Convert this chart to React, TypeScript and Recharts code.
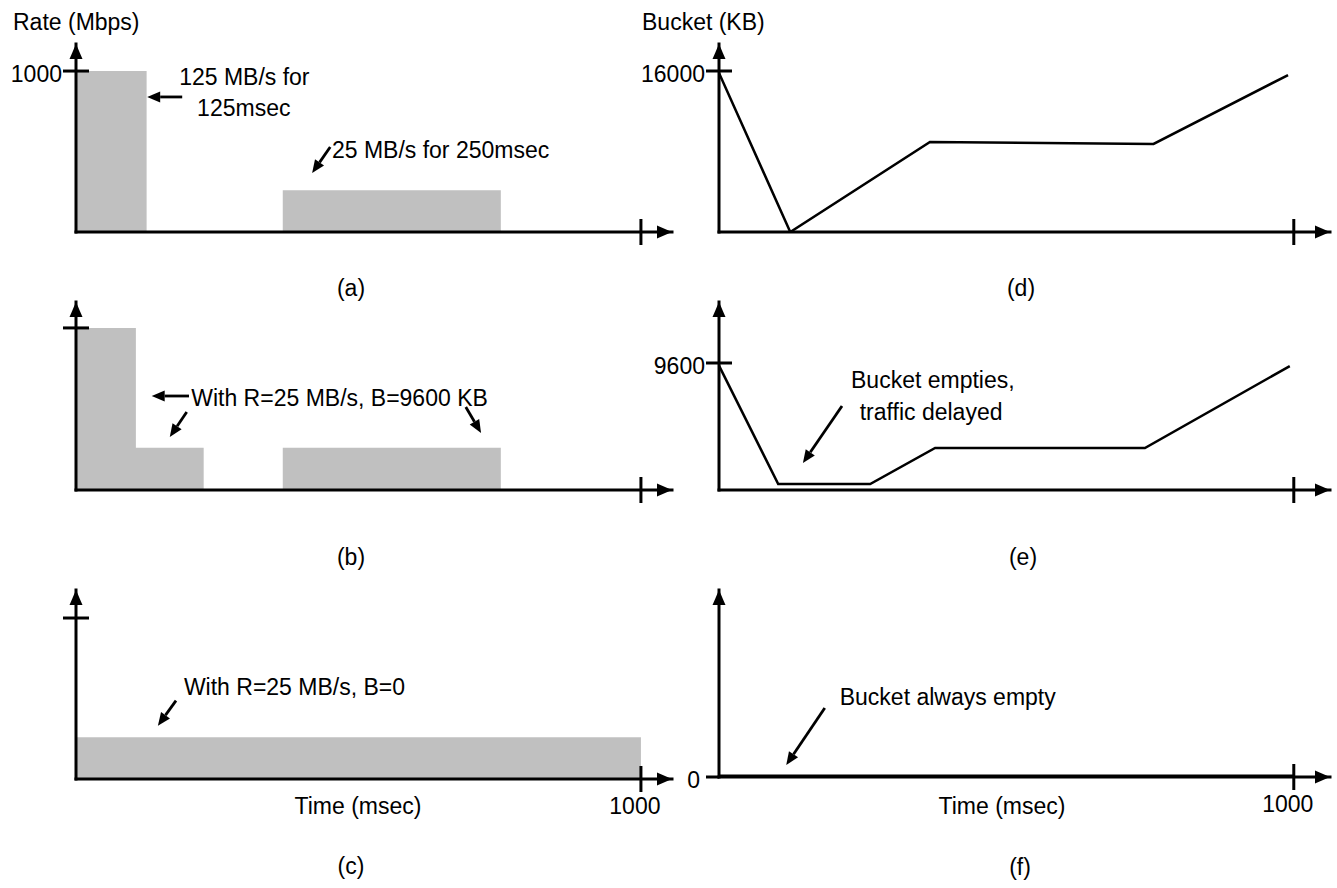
import React from 'react'
import { ComposedChart, Area, Line, XAxis, YAxis, ReferenceLine, ReferenceDot } from 'recharts'

const FONT = '"Liberation Sans", Arial, Helvetica, sans-serif'
const FS = 23
const GREY = '#c0c0c0'
const INK = '#000'

// output rate (Mbps), step shaped: each value holds until the next t (msec)
const rateA = [
  { t: 0, rate: 1000 },
  { t: 125, rate: 0 },
  { t: 366, rate: 260 },
  { t: 752, rate: 0 },
]
const rateB = [
  { t: 0, rate: 1000 },
  { t: 106, rate: 260 },
  { t: 226, rate: 0 },
  { t: 366, rate: 260 },
  { t: 752, rate: 0 },
]
const rateC = [
  { t: 0, rate: 260 },
  { t: 1000, rate: 0 },
]

// bucket level (KB) over time (msec)
const bucketD = [
  { t: 0, kb: 15800 },
  { t: 124, kb: 0 },
  { t: 367, kb: 8950 },
  { t: 756, kb: 8750 },
  { t: 990, kb: 15600 },
]
const bucketE = [
  { t: 0, kb: 9400 },
  { t: 103, kb: 450 },
  { t: 263, kb: 450 },
  { t: 376, kb: 3175 },
  { t: 741, kb: 3175 },
  { t: 993, kb: 9370 },
]
const bucketF = [
  { t: 0, kb: 0 },
  { t: 1000, kb: 0 },
]

// annotations, in data units (t, value)
const notesA = [
  { t: 298, v: 963, text: '125 MB/s for', anchor: 'middle' },
  { t: 297, v: 770, text: '125msec', anchor: 'middle' },
  { t: 453, v: 509, text: '25 MB/s for 250msec', anchor: 'start' },
]
const arrowsA = [
  { from: [188, 839], to: [126, 839] },
  { from: [450, 528], to: [418, 366] },
]
const notesB = [{ t: 204, v: 568, text: 'With R=25 MB/s, B=9600 KB', anchor: 'start' }]
const arrowsB = [
  { from: [200, 580], to: [134, 580] },
  { from: [196, 481], to: [166, 327] },
  { from: [690, 512], to: [717, 352] },
]
const notesC = [{ t: 191, v: 569, text: 'With R=25 MB/s, B=0', anchor: 'start' }]
const arrowsC = [{ from: [177, 487], to: [145, 331] }]
const notesE = [
  { t: 372, v: 8315, text: 'Bucket empties,', anchor: 'middle' },
  { t: 369, v: 5896, text: 'traffic delayed', anchor: 'middle' },
]
const arrowsE = [{ from: [214, 6350], to: [146, 2041] }]
const notesF = [{ t: 210, v: 428, text: 'Bucket always empty', anchor: 'start' }]
const arrowsF = [{ from: [184, 369], to: [117, 64] }]

const Y_W = 80
const X_H = 42
const M_TOP = 6
const M_RIGHT = 8

const arrowShape = (p: any) => {
  const { x1, y1, x2, y2 } = p
  const a = Math.atan2(y2 - y1, x2 - x1)
  const c = Math.cos(a)
  const s = Math.sin(a)
  const L = 13
  const W = 5.5
  const bx = x2 - L * c
  const by = y2 - L * s
  return (
    <g>
      <line x1={x1} y1={y1} x2={bx} y2={by} stroke={INK} strokeWidth={2.8} />
      <path d={`M${x2},${y2}L${bx - s * W},${by + c * W}L${bx + s * W},${by - c * W}Z`} fill={INK} />
    </g>
  )
}

function annotations(notes: any[], arrows: any[]) {
  const out: any[] = []
  notes.forEach((n, i) => {
    out.push(
      <ReferenceDot
        key={`n${i}`}
        x={n.t}
        y={n.v}
        r={0}
        ifOverflow="visible"
        shape={(p: any) => (
          <text x={p.cx} y={p.cy} textAnchor={n.anchor} dominantBaseline="central" fontFamily={FONT} fontSize={FS} fill={INK}>
            {n.text}
          </text>
        )}
      />
    )
  })
  arrows.forEach((a, i) => {
    out.push(
      <ReferenceLine
        key={`a${i}`}
        segment={[{ x: a.from[0], y: a.from[1] }, { x: a.to[0], y: a.to[1] }]}
        ifOverflow="visible"
        shape={arrowShape}
      />
    )
  })
  return out
}

const xTick = (xMax: number, label: boolean) => (p: any) => {
  const { x, y, payload } = p
  if (payload.value >= xMax) {
    return <path d={`M${x},${y}L${x - 15},${y - 6.5}L${x - 15},${y + 6.5}Z`} fill={INK} />
  }
  return (
    <g>
      <line x1={x} x2={x} y1={y - 13} y2={y + 13} stroke={INK} strokeWidth={3} />
      {label && (
        <text x={x - 6} y={y + 27} textAnchor="middle" dominantBaseline="central" fontFamily={FONT} fontSize={FS} fill={INK}>
          1000
        </text>
      )}
    </g>
  )
}

const yTick = (yMax: number, text: string, leftOnly: boolean) => (p: any) => {
  const { x, y, payload } = p
  if (payload.value >= yMax) {
    return <path d={`M${x},${y}L${x - 6.5},${y + 15}L${x + 6.5},${y + 15}Z`} fill={INK} />
  }
  return (
    <g>
      <line x1={x - 13} x2={leftOnly ? x : x + 13} y1={y} y2={y} stroke={INK} strokeWidth={3} />
      {text && (
        <text x={leftOnly ? x - 19 : x - 14} y={y + 3} textAnchor="end" dominantBaseline="central" fontFamily={FONT} fontSize={FS} fill={INK}>
          {text}
        </text>
      )}
    </g>
  )
}

interface PanelProps {
  axisX: number
  plotRight: number
  plotTop: number
  plotBottom: number
  xMax: number
  yMax: number
  yTick: number
  yText?: string
  leftOnly?: boolean
  xText?: boolean
  data: any[]
  children: React.ReactNode
}

function Panel(p: PanelProps) {
  const left = p.axisX - Y_W
  const top = p.plotTop - M_TOP
  const width = p.plotRight - left + M_RIGHT
  const height = p.plotBottom - top + X_H
  return (
    <div style={{ position: 'absolute', left, top }}>
      <ComposedChart width={width} height={height} data={p.data} margin={{ top: M_TOP, right: M_RIGHT, bottom: 0, left: 0 }}>
        {p.children}
        <XAxis
          type="number"
          dataKey="t"
          domain={[0, p.xMax]}
          ticks={[1000, p.xMax]}
          interval={0}
          allowDataOverflow
          height={X_H}
          tickSize={0}
          tickMargin={0}
          tickLine={false}
          axisLine={{ stroke: INK, strokeWidth: 3, strokeLinecap: 'square' }}
          tick={xTick(p.xMax, !!p.xText)}
        />
        <YAxis
          type="number"
          domain={[0, p.yMax]}
          ticks={[p.yTick, p.yMax]}
          interval={0}
          allowDataOverflow
          width={Y_W}
          tickSize={0}
          tickMargin={0}
          tickLine={false}
          axisLine={{ stroke: INK, strokeWidth: 3, strokeLinecap: 'square' }}
          tick={yTick(p.yMax, p.yText || '', !!p.leftOnly)}
        />
      </ComposedChart>
    </div>
  )
}

function Caption({ x, y, text, center }: { x: number; y: number; text: string; center?: boolean }) {
  return (
    <div
      style={{
        position: 'absolute',
        left: x,
        top: y - 11,
        transform: center ? 'translateX(-50%)' : undefined,
        fontFamily: FONT,
        fontSize: FS,
        lineHeight: '22px',
        whiteSpace: 'nowrap',
        color: INK,
      }}
    >
      {text}
    </div>
  )
}

const LX = 76
const LR = 672
const LXMAX = 1055
const RX = 719
const RR = 1330
const RXMAX = 1063

export default function App() {
  return (
    <div style={{ position: 'absolute', left: 0, top: 0, width: 1337, height: 888, background: '#fff', overflow: 'hidden' }}>
      <Caption x={13} y={22} text="Rate (Mbps)" />
      <Caption x={642} y={22} text="Bucket (KB)" />

      <Panel axisX={LX} plotRight={LR} plotTop={44} plotBottom={232} xMax={LXMAX} yMax={1168} yTick={1000} yText="1000" data={rateA}>
        <Area dataKey="rate" type="stepAfter" fill={GREY} fillOpacity={1} stroke="none" isAnimationActive={false} />
        {annotations(notesA, arrowsA)}
      </Panel>
      <Panel axisX={LX} plotRight={LR} plotTop={302} plotBottom={490} xMax={LXMAX} yMax={1160} yTick={1000} data={rateB}>
        <Area dataKey="rate" type="stepAfter" fill={GREY} fillOpacity={1} stroke="none" isAnimationActive={false} />
        {annotations(notesB, arrowsB)}
      </Panel>
      <Panel axisX={LX} plotRight={LR} plotTop={590} plotBottom={779} xMax={LXMAX} yMax={1174} yTick={1000} xText data={rateC}>
        <Area dataKey="rate" type="stepAfter" fill={GREY} fillOpacity={1} stroke="none" isAnimationActive={false} />
        {annotations(notesC, arrowsC)}
      </Panel>

      <Panel axisX={RX} plotRight={RR} plotTop={44} plotBottom={232} xMax={RXMAX} yMax={18683} yTick={16000} yText="16000" data={bucketD}>
        <Line dataKey="kb" type="linear" stroke={INK} strokeWidth={2.5} dot={false} isAnimationActive={false} />
      </Panel>
      <Panel axisX={RX} plotRight={RR} plotTop={302} plotBottom={490} xMax={RXMAX} yMax={14211} yTick={9600} yText="9600" data={bucketE}>
        <Line dataKey="kb" type="linear" stroke={INK} strokeWidth={2.5} dot={false} isAnimationActive={false} />
        {annotations(notesE, arrowsE)}
      </Panel>
      <Panel axisX={RX} plotRight={RR} plotTop={590} plotBottom={777} xMax={RXMAX} yMax={1000} yTick={0} yText="0" leftOnly xText data={bucketF}>
        <Line dataKey="kb" type="linear" stroke={INK} strokeWidth={5} dot={false} isAnimationActive={false} />
        {annotations(notesF, arrowsF)}
      </Panel>

      <Caption x={351} y={288} text="(a)" center />
      <Caption x={1021} y={288} text="(d)" center />
      <Caption x={351} y={557} text="(b)" center />
      <Caption x={1023} y={557} text="(e)" center />
      <Caption x={358} y={806} text="Time (msec)" center />
      <Caption x={1002} y={806} text="Time (msec)" center />
      <Caption x={351} y={866} text="(c)" center />
      <Caption x={1020} y={867} text="(f)" center />
    </div>
  )
}
